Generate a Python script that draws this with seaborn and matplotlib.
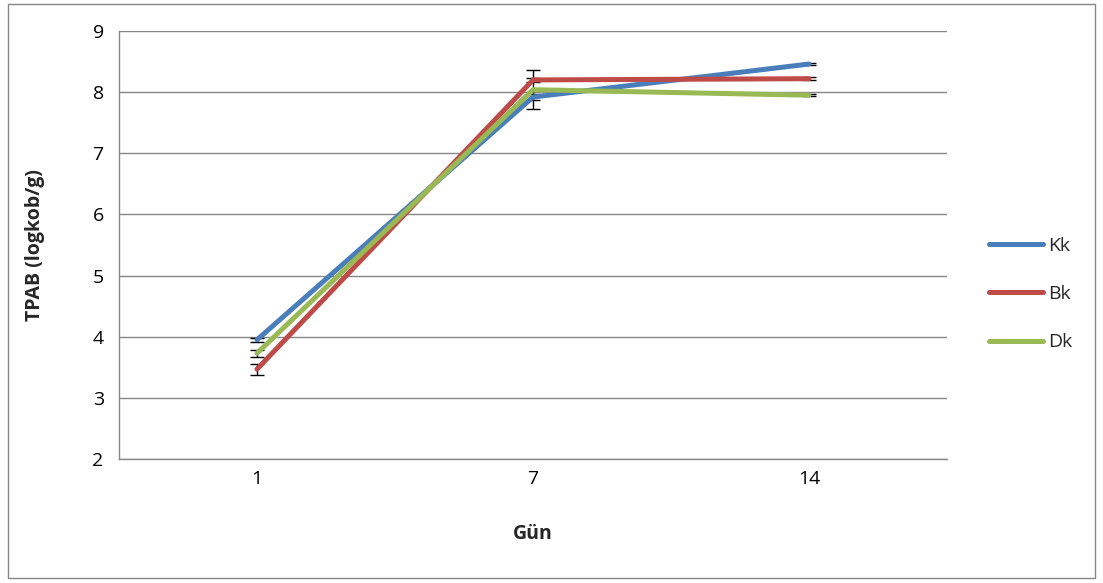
import matplotlib
matplotlib.use("Agg")
import matplotlib.pyplot as plt
import seaborn as sns
import pandas as pd
import numpy as np
from matplotlib.patches import Rectangle

days = ["1", "7", "14"]
kk = [3.95, 7.92, 8.46]
bk = [3.47, 8.20, 8.22]
dk = [3.73, 8.04, 7.95]
kk_err = [0.03, 0.05, 0.02]
bk_err = [0.09, 0.03, 0.02]
dk_err = [0.06, 0.32, 0.02]
series_names = ["Kk", "Bk", "Dk"]
colors = ["#4A7EBB", "#BE4B48", "#98B954"]

sns.set_theme(style="white")
plt.rcParams['font.family'] = ['Open Sans', 'DejaVu Sans']

rows = []
for name, vals in zip(series_names, [kk, bk, dk]):
    for d, v in zip(days, vals):
        rows.append({"Gün": d, "value": v, "series": name})
df = pd.DataFrame(rows)

fig = plt.figure(figsize=(11.03, 5.83), dpi=100)
ax = fig.add_axes([0.1079, 0.2127, 0.8586 - 0.1079, 0.9468 - 0.2127])

# error bars first (beneath lines)
for vals, errs in zip([kk, bk, dk], [kk_err, bk_err, dk_err]):
    ax.errorbar(np.arange(len(days)), vals, yerr=errs, fmt="none",
                ecolor="black", elinewidth=1.0, capsize=5, capthick=1.0, zorder=2)

sns.lineplot(data=df, x="Gün", y="value", hue="series", palette=colors,
             linewidth=3.6, ax=ax, sort=False, zorder=3)
for ln in ax.get_lines():
    ln.set_solid_capstyle("round")

ax.set_xlim(-0.5, 2.5)
ax.set_ylim(2, 9)
ax.set_yticks(range(2, 10))
ax.grid(axis="y", color="#868686", linewidth=1.0)
ax.set_axisbelow(True)
for s in ["top", "right"]:
    ax.spines[s].set_visible(False)
for s in ["left", "bottom"]:
    ax.spines[s].set_color("#868686")
    ax.spines[s].set_linewidth(1.0)
ax.tick_params(axis="both", which="both", direction="out", length=5, width=1,
               color="#868686", labelsize=14, labelcolor="black", pad=6)
ax.tick_params(axis="x", length=0, pad=8)
ax.set_xticks(range(len(days)))
ax.set_xticklabels(days)
ax.set_xlabel("Gün", fontsize=14, fontweight="bold", labelpad=26)
ax.set_ylabel("TPAB (logkob/g)", fontsize=14, fontweight="bold", labelpad=34)

leg = ax.legend(loc="center left", bbox_to_anchor=(1.03, 0.385), frameon=False,
                fontsize=14, handlelength=2.75, labelspacing=1.55, handletextpad=0.25)

fig.patches.append(Rectangle((0.007, 0.008), 0.986, 0.985, transform=fig.transFigure,
                             fill=False, edgecolor="#868686", linewidth=1.0))

fig.savefig("out.png", dpi=100)
